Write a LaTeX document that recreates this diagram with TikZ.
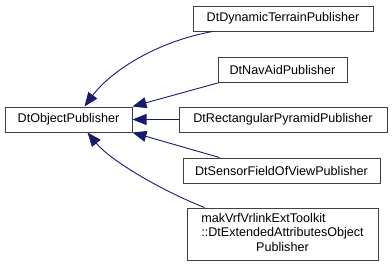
\documentclass[tikz,border=0pt]{standalone}
\usepackage{fontspec}
\setmainfont{Liberation Sans}
\usepackage{tikz}
\usetikzlibrary{positioning, arrows.meta}
\definecolor{EdgeBlue}{RGB}{25,25,112}
\definecolor{BoxLine}{RGB}{64,64,64}
\tikzset{
  cls/.style={draw=BoxLine, line width=1pt, fill=white, minimum height=25pt,
    inner sep=2pt, font=\fontsize{12.6}{14.5}\selectfont, align=center},
  inh/.style={{Triangle[length=14pt,width=11pt]}-, line width=0.9pt, EdgeBlue},
}

\begin{document}
\begin{tikzpicture}[x=1pt,y=-1pt]
  \useasboundingbox (0,0) rectangle (392,269);
  % base class
  \node[cls, minimum width=127pt] (obj) at (68.5,119.5) {DtObjectPublisher};
  % derived classes
  \node[cls, minimum width=180pt] (dyn) at (283,18.5) {DtDynamicTerrainPublisher};
  \node[cls, minimum width=129pt] (nav) at (282.5,69.5) {DtNavAidPublisher};
  \node[cls, minimum width=208pt] (rect) at (283,119.5) {DtRectangularPyramidPublisher};
  \node[cls, minimum width=197pt] (sens) at (281.5,170.5) {DtSensorFieldOfViewPublisher};
  \node[cls, minimum width=191pt, minimum height=52pt] (mak) at (282.5,234)
    {\begin{tabular}{@{}l@{}}makVrfVrlinkExtToolkit\\::DtExtendedAttributesObject\\
     \multicolumn{1}{@{}c@{}}{Publisher}\end{tabular}};
  % inheritance edges
  \coordinate (objA) at ([xshift=80pt]obj.north west);
  \coordinate (objB) at ([xshift=83pt]obj.south west);
  \coordinate (dynS) at ([xshift=20pt]dyn.south west);
  \coordinate (makN) at ([xshift=18pt]mak.north west);
  \draw[inh] (objA) .. controls (110,72) and (155,42) .. (dynS);
  \draw[inh] (obj.north east) -- ([xshift=2pt]nav.south west);
  \draw[inh] (obj.east) -- (rect.west);
  \draw[inh] (obj.south east) -- ([xshift=37pt]sens.north west);
  \draw[inh] (objB) .. controls (110,160) and (160,190) .. (makN);
\end{tikzpicture}
\end{document}
